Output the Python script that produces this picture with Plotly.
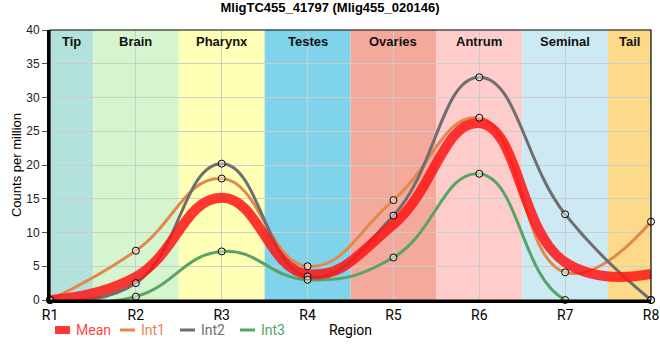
import plotly.graph_objects as go

regions = ["R1", "R2", "R3", "R4", "R5", "R6", "R7", "R8"]
int1 = [0, 7.3, 18.0, 5.0, 14.8, 27.0, 4.1, 11.6]
int2 = [0, 2.5, 20.2, 3.5, 12.5, 33.0, 12.7, 0]
int3 = [0, 0.5, 7.2, 3.0, 6.3, 18.7, 0, 0]
mean = [round((a + b + c) / 3, 2) for a, b, c in zip(int1, int2, int3)]

tissues = ["Tip", "Brain", "Pharynx", "Testes", "Ovaries", "Antrum", "Seminal", "Tail"]
tissue_colors = ["#b3e2dd", "#d5f5cf", "#ffffb5", "#7fd3ea", "#f5a99c", "#ffcccc", "#cdeaf4", "#fdd98a"]

series_names = ["Int1", "Int2", "Int3"]
series_vals = [int1, int2, int3]
series_cols = ["#e0894a", "#6e6e6e", "#57a565"]
mean_col = "rgba(255,20,20,0.85)"
mean_text_col = "#ff4848"

SMOOTH = 1.3
W, H = 660, 360
L, R, T, B = 50, 9, 30, 60
PW, PH = W - L - R, H - T - B


def px_x(p):
    return (p - L) / PW


def px_y(p):
    return (H - B - p) / PH


xs = list(range(len(regions)))
n = len(regions)

fig = go.Figure()

for name, vals, col in zip(series_names, series_vals, series_cols):
    fig.add_trace(go.Scatter(
        x=xs, y=vals, mode="lines", name=name, showlegend=False,
        line=dict(color=col, width=3, shape="spline", smoothing=SMOOTH),
    ))

fig.add_trace(go.Scatter(
    x=xs, y=mean, mode="lines", name="Mean", showlegend=False,
    line=dict(color=mean_col, width=10, shape="spline", smoothing=SMOOTH),
))

for name, vals in zip(series_names, series_vals):
    fig.add_trace(go.Scatter(
        x=xs, y=vals, mode="markers", showlegend=False, hoverinfo="skip", cliponaxis=False,
        marker=dict(size=7, color="rgba(255,255,255,0.45)", line=dict(color="black", width=1)),
    ))

shapes = []
annotations = []
for i, (t, c) in enumerate(zip(tissues, tissue_colors)):
    x0 = max(0, i - 0.5)
    x1 = min(n - 1, i + 0.5)
    shapes.append(dict(type="rect", xref="x", yref="paper", x0=x0, x1=x1, y0=0, y1=1,
                       fillcolor=c, line=dict(width=0), layer="below"))
    annotations.append(dict(x=(x0 + x1) / 2, y=1, xref="x", yref="paper", yshift=-11,
                            yanchor="middle", text=f"<b>{t}</b>", showarrow=False,
                            font=dict(size=13, color="#111", family="Arial, Liberation Sans")))
shapes.append(dict(type="rect", xref="paper", yref="paper", x0=0, x1=1, y0=0, y1=1,
                   line=dict(color="black", width=1.2), fillcolor="rgba(0,0,0,0)", layer="above"))

# custom legend (symbol + coloured text)
leg_y = 330
leg_items = [("Mean", mean_col, mean_text_col, 55, 8)] + [
    (nm, c, c, 55 + 60 * (k + 1) + 5, 3) for k, (nm, c) in enumerate(zip(series_names, series_cols))
]
for nm, col, tcol, x0, lw in leg_items:
    shapes.append(dict(type="line", xref="paper", yref="paper",
                       x0=px_x(x0), x1=px_x(x0 + 15), y0=px_y(leg_y), y1=px_y(leg_y),
                       line=dict(color=col, width=lw)))
    annotations.append(dict(x=px_x(x0 + 19), y=px_y(leg_y), xref="paper", yref="paper",
                            xanchor="left", yanchor="middle", text=nm, showarrow=False,
                            font=dict(size=14, color=tcol, family="Roboto, Arial")))

fig.update_layout(
    width=W, height=H,
    margin=dict(l=L, r=R, t=T, b=B),
    plot_bgcolor="white", paper_bgcolor="white",
    title=dict(text="<b>MligTC455_41797 (Mlig455_020146)</b>", x=0.5, xanchor="center",
               y=0.993, yanchor="top", font=dict(size=13, color="black", family="Arial, Liberation Sans")),
    font=dict(family="Arial, Liberation Sans", size=12, color="black"),
    shapes=shapes, annotations=annotations,
    showlegend=False,
)
fig.update_xaxes(
    tickvals=xs, ticktext=regions, range=[0, n - 1], automargin=False,
    showgrid=True, gridcolor="#cccccc", gridwidth=1,
    showline=True, linecolor="black", linewidth=3,
    ticks="", tickfont=dict(size=14, family="Roboto, Arial", color="black"),
    title=dict(text="Region", standoff=4, font=dict(size=14, family="Roboto, Arial")),
    zeroline=False,
)
fig.update_yaxes(
    range=[0, 40], dtick=5, automargin=False,
    showgrid=True, gridcolor="#cccccc", gridwidth=1,
    showline=True, linecolor="black", linewidth=3,
    ticks="outside", ticklen=5, tickcolor="#555", tickfont=dict(size=12, color="#222"),
    title=dict(text="Counts per million", standoff=2, font=dict(size=13)),
    zeroline=False,
)

fig.write_html("out.html", config={"displayModeBar": False},
               post_script="document.body.style.margin='0';document.body.style.overflow='hidden';")
